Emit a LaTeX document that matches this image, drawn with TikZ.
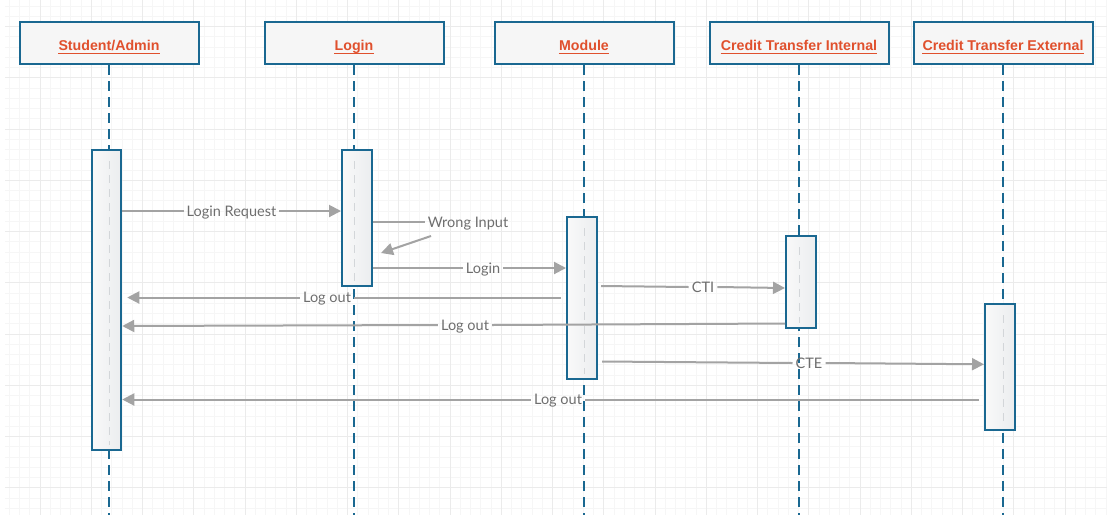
\documentclass[tikz,border=0pt]{standalone}
\usepackage{fontspec}
\setmainfont{Lato}
\newfontfamily\hdrfont{Liberation Sans}
\usetikzlibrary{arrows.meta}
\definecolor{lblue}{HTML}{1A6891}
\definecolor{lorange}{HTML}{E0502D}
\definecolor{hfill}{HTML}{F6F6F6}
\definecolor{agray}{HTML}{A3A3A3}
\definecolor{tgray}{HTML}{6E6E6E}
\definecolor{actl}{HTML}{F9F9F9}
\definecolor{actr}{HTML}{EBEDEF}
\definecolor{gmin}{HTML}{F6F6F6}
\definecolor{gmaj}{HTML}{EBEBEB}
\definecolor{faint}{HTML}{D3D6D9}
\tikzset{
  header/.style={draw=lblue, line width=2pt, fill=hfill, minimum width=179pt, minimum height=42pt, inner sep=0pt},
  htext/.style={font=\hdrfont\bfseries\fontsize{14.2}{16}\selectfont, text=lorange, inner sep=0pt, anchor=base},
  uline/.style={draw=lorange, line width=1.2pt},
  lifeline/.style={draw=lblue, line width=2pt, dash pattern=on 10pt off 6pt},
  activation/.style={draw=lblue, line width=2pt, left color=actl, right color=actr, inner sep=0pt},
  faintline/.style={draw=faint, line width=1pt, dash pattern=on 8pt off 6pt},
  msg/.style={draw=agray, line width=2pt},
  msgarrow/.style={msg, -{Triangle[length=12pt,width=12pt]}},
  mlabel/.style={font=\fontsize{14.5}{16}\selectfont, text=tgray, inner xsep=3pt, inner ysep=0pt, text height=10.5pt, text depth=0pt},
  gridmin/.style={draw=gmin, line width=0.6pt},
  gridmaj/.style={draw=gmaj, line width=0.8pt},
}
\begin{document}
\begin{tikzpicture}[x=1pt,y=-1pt]
\useasboundingbox (0,0) rectangle (1107,515);
\fill[white] (0,0) rectangle (1107,515);
% background grid
\foreach \i in {0,...,107} \draw[gridmin] (9.25+10.25*\i,0) -- (9.25+10.25*\i,515);
\foreach \j in {0,...,49} \draw[gridmin] (5,6+10.25*\j) -- (1107,6+10.25*\j);
\foreach \k in {0,...,20} \draw[gridmaj] (40+51.25*\k,0) -- (40+51.25*\k,515);
\foreach \k in {0,...,9} \draw[gridmaj] (5,26.5+51.25*\k) -- (1107,26.5+51.25*\k);

% headers
\node[header] (hS) at (109,43) {};
\node[header] (hL) at (354,43) {};
\node[header] (hM) at (584,43) {};
\node[header] (hI) at (799,43) {};
\node[header] (hE) at (1003,43) {};
\node[htext] (tS) at (109,50.5) {Student/Admin};
\node[htext] (tL) at (354,50.5) {Login};
\node[htext] (tM) at (584,50.5) {Module};
\node[htext] (tI) at (799,50.5) {Credit Transfer Internal};
\node[htext] (tE) at (1003,50.5) {Credit Transfer External};
\foreach \t in {tS,tL,tM,tI,tE}
  \draw[uline] ([yshift=-2.6pt]\t.base west) -- ([yshift=-2.6pt]\t.base east);

% lifelines
\coordinate (eS) at (109,515);
\coordinate (eL) at (354,515);
\coordinate (eM) at (584,515);
\coordinate (eI) at (799,515);
\coordinate (eE) at (1003,515);
\draw[lifeline] (hS.south) -- (eS);
\draw[lifeline] (hL.south) -- (eL);
\draw[lifeline] (hM.south) -- (eM);
\draw[lifeline] (hI.south) -- (eI);
\draw[lifeline] (hE.south) -- (eE);

% activations
\node[activation, minimum width=29.5pt, minimum height=300pt] (aS) at (106.5,300) {};
\node[activation, minimum width=30pt, minimum height=136pt] (aL) at (357,218) {};
\node[activation, minimum width=30pt, minimum height=162pt] (aM) at (582,298) {};
\node[activation, minimum width=30pt, minimum height=92pt] (aI) at (801,282) {};
\node[activation, minimum width=30pt, minimum height=126pt] (aE) at (1000,367) {};
\draw[faintline] ([yshift=-12pt]aS.north -| eS) -- ([yshift=6pt]aS.south -| eS);
\draw[faintline] ([yshift=-12pt]aL.north -| eL) -- ([yshift=6pt]aL.south -| eL);
\draw[faintline] ([yshift=-12pt]aM.north -| eM) -- ([yshift=6pt]aM.south -| eM);
\draw[faintline] ([yshift=-12pt]aI.north -| eI) -- ([yshift=6pt]aI.south -| eI);
\draw[faintline] ([yshift=-12pt]aE.north -| eE) -- ([yshift=6pt]aE.south -| eE);

% messages
\node[mlabel] (m1) at (231.5,211) {Login Request};
\draw[msg] (aS.east |- 0,211) -- (m1.west);
\draw[msgarrow] (m1.east) -- (aL.west |- 0,211);

\node[mlabel] (m2) at (468,222) {Wrong Input};
\draw[msg] (aL.east |- 0,222) -- (m2.west);
\coordinate (w1) at (431,236);
\coordinate (w2) at (381,253);
\draw[msgarrow] (w1) -- (w2);

\node[mlabel] (m3) at (483,268) {Login};
\draw[msg] (aL.east |- 0,268) -- (m3.west);
\draw[msgarrow] (m3.east) -- (aM.west |- 0,268);

\node[mlabel] (m4) at (703,287) {CTI};
\draw[msg] ([xshift=3pt]aM.east |- 0,286) -- (m4.west);
\draw[msgarrow] (m4.east) -- (aI.west |- 0,288);

\node[mlabel] (m5) at (327,297.5) {Log out};
\draw[msg] ([xshift=-5pt]aM.west |- 0,297.5) -- (m5.east);
\draw[msgarrow] (m5.west) -- ([xshift=5pt]aS.east |- 0,297.5);

\node[mlabel] (m6) at (465,325) {Log out};
\draw[msg] (aI.west |- 0,323.5) -- (m6.east);
\draw[msgarrow] (m6.west) -- (aS.east |- 0,326);

\node[mlabel] (m7) at (809,363) {CTE};
\draw[msg] ([xshift=4pt]aM.east |- 0,361.5) -- (m7.west);
\draw[msgarrow] (m7.east) -- (aE.west |- 0,364.3);

\node[mlabel] (m8) at (558,399.5) {Log out};
\draw[msg] ([xshift=-5pt]aE.west |- 0,399.5) -- (m8.east);
\draw[msgarrow] (m8.west) -- (aS.east |- 0,399.5);
\end{tikzpicture}
\end{document}
